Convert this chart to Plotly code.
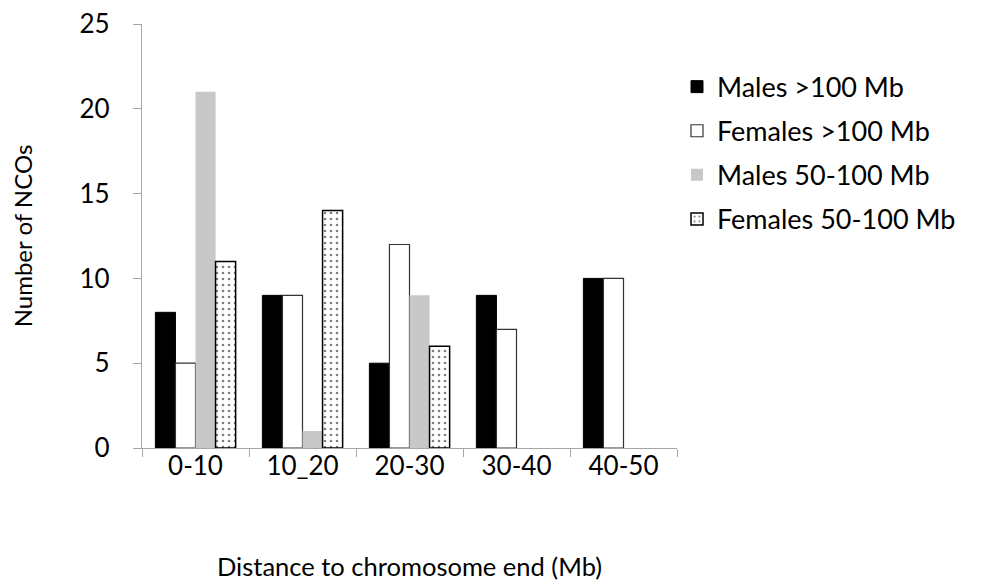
import plotly.graph_objects as go

categories = ["0-10", "10_20", "20-30", "30-40", "40-50"]
males_gt100 = [8, 9, 5, 9, 10]
females_gt100 = [5, 9, 12, 7, 10]
males_50_100 = [21, 1, 9, 0, 0]
females_50_100 = [11, 14, 6, 0, 0]


def widths(values, w):
    return [w if v > 0 else 0 for v in values]


FONT = "Lato"
fig = go.Figure()
fig.add_trace(go.Bar(x=categories, y=males_gt100, name="Males >100 Mb", legendgroup="a",
                     marker=dict(color="black", line=dict(color="black", width=widths(males_gt100, 1)))))
fig.add_trace(go.Bar(x=categories, y=females_gt100, name="Females >100 Mb", legendgroup="b",
                     marker=dict(color="white", line=dict(color="#333333", width=widths(females_gt100, 1.2)))))
fig.add_trace(go.Bar(x=categories, y=males_50_100, name="Males 50-100 Mb", legendgroup="c",
                     marker=dict(color="#c8c8c8", line=dict(color="#c8c8c8", width=0))))
fig.add_trace(go.Bar(x=categories, y=females_50_100, name="Females 50-100 Mb", legendgroup="d",
                     marker=dict(color="white", line=dict(color="black", width=widths(females_50_100, 1.5)),
                                 pattern=dict(shape=".", fgcolor="black", bgcolor="white",
                                              size=6, solidity=0.15))))

fig.update_layout(
    width=986, height=585,
    margin=dict(l=134, r=317, t=16, b=145, autoexpand=False),
    paper_bgcolor="white", plot_bgcolor="white",
    barmode="group", bargap=0.25, bargroupgap=0,
    font=dict(family=FONT, size=26, color="black"),
    showlegend=True,
    legend=dict(x=1.0, y=0.909, xanchor="left", yanchor="top",
                font=dict(family=FONT, size=27, color="black"),
                itemwidth=30, tracegroupgap=6, bgcolor="rgba(0,0,0,0)"),
    xaxis=dict(showline=True, linecolor="#a6a6a6", linewidth=1.2, automargin=False,
               ticks="outside", tickson="boundaries", ticklen=8, tickcolor="#a6a6a6",
               showgrid=False, ticklabelstandoff=-5,
               title=dict(text="Distance to chromosome end (Mb)", standoff=77,
                          font=dict(size=25.5))),
    yaxis=dict(range=[0, 25], dtick=5, showline=True, linecolor="#a6a6a6", linewidth=1.2,
               automargin=False, ticklabeloverflow="allow",
               ticks="outside", ticklen=8, tickcolor="#a6a6a6", showgrid=False,
               zeroline=False, ticklabelstandoff=18,
               title=dict(text="Number of NCOs", standoff=40, font=dict(size=24))),
)

fig.write_html("out.html")
